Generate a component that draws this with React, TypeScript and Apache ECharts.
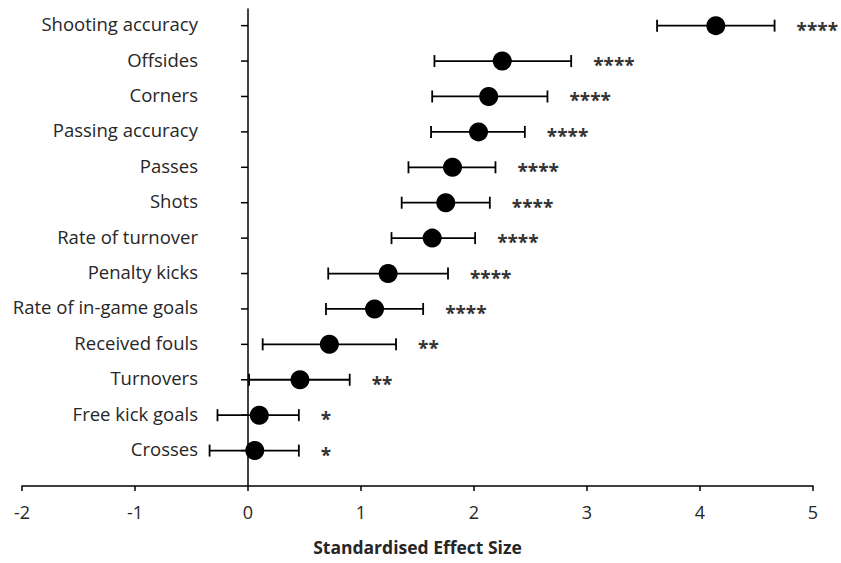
import React, { useEffect, useRef } from 'react';
import * as echarts from 'echarts';

// Outcome measures, listed top to bottom
const categories = [
  'Shooting accuracy',
  'Offsides',
  'Corners',
  'Passing accuracy',
  'Passes',
  'Shots',
  'Rate of turnover',
  'Penalty kicks',
  'Rate of in-game goals',
  'Received fouls',
  'Turnovers',
  'Free kick goals',
  'Crosses',
];

// Standardised effect size (point estimate) and its confidence interval
const effectSize = [4.14, 2.25, 2.13, 2.04, 1.81, 1.75, 1.63, 1.24, 1.12, 0.72, 0.46, 0.1, 0.06];
const ciLower = [3.62, 1.65, 1.63, 1.62, 1.42, 1.36, 1.27, 0.71, 0.69, 0.13, 0.01, -0.27, -0.34];
const ciUpper = [4.66, 2.86, 2.65, 2.45, 2.19, 2.14, 2.01, 1.77, 1.55, 1.31, 0.9, 0.45, 0.45];

// Significance markers
const significance = ['****', '****', '****', '****', '****', '****', '****', '****', '****', '**', '**', '*', '*'];

// x-axis range and step
const xMin = -2;
const xMax = 5;
const xStep = 1;

const FONT = '"Open Sans", "Liberation Sans", sans-serif';
const INK = '#000000';
const TEXT = '#262626';

export default function App() {
  const ref = useRef<HTMLDivElement>(null);

  useEffect(() => {
    if (!ref.current) return;
    const chart = echarts.init(ref.current, null, { renderer: 'svg' });
    const n = categories.length;

    // each row: [lower, estimate, upper, y position, row index]
    const rows = categories.map((_, i) => [ciLower[i], effectSize[i], ciUpper[i], n - i, i]);

    const renderRow = (params: any, api: any) => {
      const lo = api.coord([api.value(0), api.value(3)]);
      const hi = api.coord([api.value(2), api.value(3)]);
      const axisPt = api.coord([0, api.value(3)]);
      const idx = api.value(4) as number;
      const cap = 6;
      const line = { stroke: INK, lineWidth: 1.8 };
      return {
        type: 'group',
        children: [
          // category tick and label on the y axis (which sits at x = 0)
          {
            type: 'line',
            shape: { x1: axisPt[0] - 7, y1: axisPt[1], x2: axisPt[0], y2: axisPt[1] },
            style: { stroke: INK, lineWidth: 1.5 },
          },
          {
            type: 'text',
            x: axisPt[0] - 50,
            y: axisPt[1] - 2,
            style: {
              text: categories[idx],
              font: `18.5px ${FONT}`,
              fill: TEXT,
              textAlign: 'right',
              textVerticalAlign: 'middle',
            },
          },
          // confidence interval with end caps
          {
            type: 'line',
            shape: { x1: lo[0], y1: lo[1], x2: hi[0], y2: hi[1] },
            style: line,
          },
          {
            type: 'line',
            shape: { x1: lo[0], y1: lo[1] - cap, x2: lo[0], y2: lo[1] + cap },
            style: line,
          },
          {
            type: 'line',
            shape: { x1: hi[0], y1: hi[1] - cap, x2: hi[0], y2: hi[1] + cap },
            style: line,
          },
          // significance stars
          {
            type: 'text',
            x: hi[0] + 22,
            y: hi[1] + 4,
            style: {
              text: significance[idx],
              font: `bold 19px ${FONT}`,
              fill: '#333333',
              textAlign: 'left',
              textVerticalAlign: 'middle',
            },
          },
        ],
      };
    };

    chart.setOption({
      animation: false,
      grid: { left: 22, right: 28, top: 9, bottom: 77, containLabel: false, outerBoundsMode: 'none' },
      xAxis: {
        type: 'value',
        min: xMin,
        max: xMax,
        interval: xStep,
        axisLine: { onZero: false, lineStyle: { color: INK, width: 1.5 } },
        axisTick: { show: true, length: 5, lineStyle: { color: INK, width: 1.5 } },
        axisLabel: { color: TEXT, fontFamily: FONT, fontSize: 18, margin: 17 },
        splitLine: { show: false },
        name: 'Standardised Effect Size',
        nameLocation: 'middle',
        nameGap: 52,
        nameTextStyle: { color: TEXT, fontFamily: FONT, fontSize: 17.5, fontWeight: 'bold' },
      },
      yAxis: {
        type: 'value',
        min: 0,
        max: n + 0.47,
        interval: 1,
        axisLine: { onZero: true, lineStyle: { color: INK, width: 1.5 } },
        axisTick: { show: false },
        axisLabel: { show: false },
        splitLine: { show: false },
      },
      series: [
        {
          type: 'custom',
          renderItem: renderRow,
          data: rows,
          encode: { x: [0, 2], y: 3 },
          clip: false,
          z: 2,
        },
        {
          type: 'scatter',
          data: rows.map((r) => [r[1], r[3]]),
          symbol: 'circle',
          symbolSize: 19,
          itemStyle: { color: INK, opacity: 1 },
          z: 3,
        },
      ],
    });

    return () => chart.dispose();
  }, []);

  return (
    <div
      ref={ref}
      style={{ position: 'fixed', left: 0, top: 0, width: 841, height: 563, background: '#ffffff' }}
    />
  );
}
